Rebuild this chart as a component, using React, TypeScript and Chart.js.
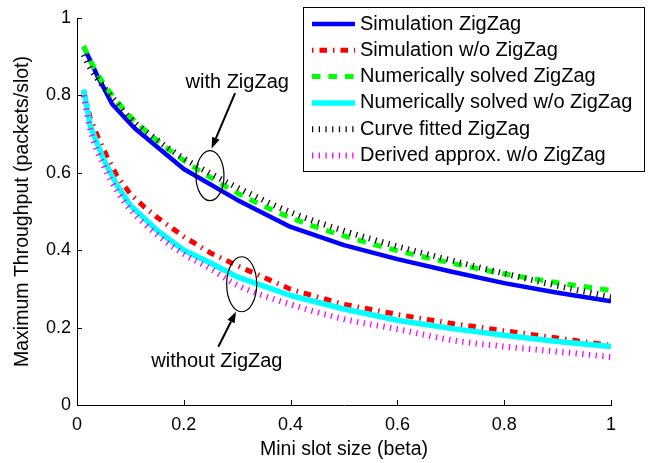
import React, { useEffect, useRef } from "react";
import { Chart, registerables } from "chart.js";

Chart.register(...registerables);

// ---------- data ----------
const BETA_SIM_ZZ = [0.0125, 0.025, 0.04, 0.05, 0.066, 0.108, 0.2, 0.3, 0.4, 0.5, 0.6, 0.7, 0.8, 0.9, 1.0];
const SIM_ZZ = [0.925, 0.89, 0.845, 0.82, 0.777, 0.715, 0.61, 0.53, 0.46, 0.413, 0.377, 0.345, 0.315, 0.29, 0.268];

const BETA_SIM_NOZZ = [0.0125, 0.025, 0.04, 0.055, 0.075, 0.1, 0.125, 0.15, 0.2, 0.25, 0.3, 0.4, 0.5, 0.6, 0.7, 0.8, 0.9, 1.0];
const SIM_NOZZ = [0.81, 0.74, 0.69, 0.645, 0.592, 0.545, 0.513, 0.485, 0.435, 0.393, 0.36, 0.299, 0.26, 0.234, 0.211, 0.192, 0.173, 0.154];

const BETA_NUM = [0.0125, 0.025, 0.05, 0.075, 0.1, 0.15, 0.2, 0.25, 0.3, 0.4, 0.5, 0.6, 0.7, 0.8, 0.9, 1.0];
const NUM_ZZ = [0.928, 0.89, 0.83, 0.785, 0.745, 0.684, 0.632, 0.588, 0.548, 0.484, 0.437, 0.399, 0.367, 0.339, 0.316, 0.296];
const NUM_NOZZ = [0.815, 0.72, 0.634, 0.567, 0.516, 0.451, 0.4, 0.367, 0.331, 0.283, 0.248, 0.219, 0.198, 0.18, 0.164, 0.151];
const FIT_ZZ = [0.905, 0.87, 0.822, 0.78, 0.74, 0.685, 0.637, 0.598, 0.562, 0.498, 0.45, 0.41, 0.374, 0.34, 0.308, 0.279];
const APPROX_NOZZ = [0.8, 0.71, 0.618, 0.553, 0.505, 0.44, 0.39, 0.352, 0.31, 0.26, 0.222, 0.196, 0.168, 0.151, 0.138, 0.124];

const SERIES_LABELS = [
  "Simulation ZigZag",
  "Simulation w/o ZigZag",
  "Numerically solved ZigZag",
  "Numerically solved w/o ZigZag",
  "Curve fitted ZigZag",
  "Derived approx. w/o ZigZag",
];

const X_TICKS = [0, 0.2, 0.4, 0.6, 0.8, 1];
const Y_TICKS = [0, 0.2, 0.4, 0.6, 0.8, 1];

const X_TITLE = "Mini slot size (beta)";
const Y_TITLE = "Maximum Throughput (packets/slot)";

// annotations (data-space anchors)
const NOTE_TEXTS = [
  { text: "with ZigZag", x: 0.3, y: 0.819 },
  { text: "without ZigZag", x: 0.262, y: 0.098 },
];
const NOTE_ELLIPSES = [
  { x: 0.249, y: 0.5925 },
  { x: 0.3084, y: 0.312 },
];
const NOTE_ARROWS = [
  { fromX: 0.296, fromY: 0.806, toX: 0.252, toY: 0.663 },
  { fromX: 0.2646, fromY: 0.1506, toX: 0.2978, toY: 0.241 },
];

const FONT = "'Liberation Sans', Arial, Helvetica, sans-serif";

function pts(xs: number[], ys: number[]) {
  return xs.map((x, i) => ({ x, y: ys[i] }));
}

const overlayPlugin = {
  id: "overlay",
  afterDraw(chart: any) {
    const { ctx, scales } = chart;
    const xs = scales.x;
    const ys = scales.y;
    const area = chart.chartArea;
    ctx.save();

    // inward tick marks
    ctx.strokeStyle = "#000";
    ctx.lineWidth = 1;
    ctx.setLineDash([]);
    X_TICKS.forEach((v) => {
      const px = Math.round(xs.getPixelForValue(v)) + 0.5;
      ctx.beginPath();
      ctx.moveTo(px, area.bottom);
      ctx.lineTo(px, area.bottom - 5);
      ctx.stroke();
    });
    Y_TICKS.forEach((v) => {
      const py = Math.round(ys.getPixelForValue(v)) + 0.5;
      ctx.beginPath();
      ctx.moveTo(area.left, py);
      ctx.lineTo(area.left + 5, py);
      ctx.stroke();
    });

    // ellipses
    ctx.lineWidth = 1.2;
    NOTE_ELLIPSES.forEach((e, i) => {
      ctx.beginPath();
      ctx.ellipse(xs.getPixelForValue(e.x), ys.getPixelForValue(e.y), i === 0 ? 14 : 15, i === 0 ? 25 : 27.5, 0, 0, Math.PI * 2);
      ctx.stroke();
    });

    // arrows
    NOTE_ARROWS.forEach((a) => {
      const x0 = xs.getPixelForValue(a.fromX);
      const y0 = ys.getPixelForValue(a.fromY);
      const x1 = xs.getPixelForValue(a.toX);
      const y1 = ys.getPixelForValue(a.toY);
      const ang = Math.atan2(y1 - y0, x1 - x0);
      const hl = 11;
      const hw = 4;
      const bx = x1 - hl * Math.cos(ang);
      const by = y1 - hl * Math.sin(ang);
      ctx.lineWidth = 2;
      ctx.beginPath();
      ctx.moveTo(x0, y0);
      ctx.lineTo(bx, by);
      ctx.stroke();
      ctx.beginPath();
      ctx.moveTo(x1, y1);
      ctx.lineTo(bx + hw * Math.sin(ang), by - hw * Math.cos(ang));
      ctx.lineTo(bx - hw * Math.sin(ang), by + hw * Math.cos(ang));
      ctx.closePath();
      ctx.fillStyle = "#000";
      ctx.fill();
    });

    // texts
    ctx.fillStyle = "#000";
    ctx.font = `20px ${FONT}`;
    ctx.textAlign = "center";
    ctx.textBaseline = "alphabetic";
    NOTE_TEXTS.forEach((t) => {
      ctx.fillText(t.text, xs.getPixelForValue(t.x), ys.getPixelForValue(t.y));
    });

    // legend
    const bx0 = 303.5, by0 = 7.5, bx1 = 644.5, by1 = 171.5;
    ctx.fillStyle = "#fff";
    ctx.fillRect(bx0, by0, bx1 - bx0, by1 - by0);
    ctx.strokeStyle = "#000";
    ctx.lineWidth = 1;
    ctx.setLineDash([]);
    ctx.strokeRect(bx0, by0, bx1 - bx0, by1 - by0);
    chart.data.datasets.forEach((ds: any, i: number) => {
      const yy = 24 + i * 26.3;
      ctx.save();
      ctx.strokeStyle = ds.borderColor;
      ctx.lineWidth = ds.borderWidth;
      ctx.lineCap = "butt";
      ctx.setLineDash(ds.borderDash || []);
      ctx.lineDashOffset = ds.legendDashOffset || 0;
      ctx.beginPath();
      ctx.moveTo(312, yy);
      ctx.lineTo(355, yy);
      ctx.stroke();
      ctx.restore();
      ctx.fillStyle = "#000";
      ctx.font = `20px ${FONT}`;
      ctx.textAlign = "left";
      ctx.textBaseline = "middle";
      ctx.fillText(ds.label, 360, yy);
    });

    ctx.restore();
  },
};

const fmt = (v: any) => String(Number(v));

export default function App() {
  const ref = useRef<HTMLCanvasElement | null>(null);

  useEffect(() => {
    document.body.style.margin = "0";
    const canvas = ref.current;
    if (!canvas) return;
    const chart = new Chart(canvas, {
      type: "line",
      data: {
        datasets: [
          {
            label: SERIES_LABELS[0],
            data: pts(BETA_SIM_ZZ, SIM_ZZ),
            borderColor: "#0000ff",
            borderWidth: 4.5,
            order: 6,
          },
          {
            label: SERIES_LABELS[1],
            data: pts(BETA_SIM_NOZZ, SIM_NOZZ),
            borderColor: "#ff0000",
            borderWidth: 5,
            borderDash: [7.5, 6, 1.5, 6],
            legendDashOffset: 13.5,
            order: 5,
          },
          {
            label: SERIES_LABELS[2],
            data: pts(BETA_NUM, NUM_ZZ),
            borderColor: "#00ff00",
            borderWidth: 5,
            borderDash: [8.5, 8],
            cubicInterpolationMode: "monotone",
            order: 4,
          },
          {
            label: SERIES_LABELS[3],
            data: pts(BETA_NUM, NUM_NOZZ),
            borderColor: "#00ffff",
            borderWidth: 5.5,
            order: 3,
          },
          {
            label: SERIES_LABELS[4],
            data: pts(BETA_NUM, FIT_ZZ),
            borderColor: "#111111",
            borderWidth: 6,
            borderDash: [1.3, 5.4],
            cubicInterpolationMode: "monotone",
            order: 2,
          },
          {
            label: SERIES_LABELS[5],
            data: pts(BETA_NUM, APPROX_NOZZ),
            borderColor: "#ff00ff",
            borderWidth: 6,
            borderDash: [1.3, 5.4],
            cubicInterpolationMode: "monotone",
            order: 1,
          },
        ] as any,
      },
      options: {
        animation: false,
        responsive: false,
        devicePixelRatio: 1,
        events: [],
        elements: {
          point: { radius: 0 },
          line: { tension: 0, borderCapStyle: "butt", borderJoinStyle: "round" },
        },
        layout: { padding: { left: 0, top: 18, right: 37, bottom: 0 } },
        plugins: {
          legend: { display: false },
          tooltip: { enabled: false },
        },
        scales: {
          x: {
            type: "linear",
            min: 0,
            max: 1,
            grid: { display: false, drawTicks: false },
            border: { display: true, color: "#000", width: 1 },
            afterBuildTicks: (s: any) => {
              s.ticks = X_TICKS.map((v) => ({ value: v }));
            },
            afterFit: (s: any) => {
              s.height = 58;
            },
            ticks: {
              padding: 9,
              color: "#000",
              maxRotation: 0,
              autoSkip: false,
              callback: fmt,
              font: { family: FONT, size: 18 },
            },
            title: {
              display: true,
              text: X_TITLE,
              color: "#000",
              font: { family: FONT, size: 19.5 },
              padding: { top: 0, bottom: 1.5 },
            },
          },
          y: {
            type: "linear",
            min: 0,
            max: 1,
            grid: { display: false, drawTicks: false },
            border: { display: true, color: "#000", width: 1 },
            afterBuildTicks: (s: any) => {
              s.ticks = Y_TICKS.map((v) => ({ value: v }));
            },
            afterFit: (s: any) => {
              s.width = 77;
            },
            ticks: {
              padding: 6,
              color: "#000",
              autoSkip: false,
              callback: fmt,
              font: { family: FONT, size: 18 },
            },
            title: {
              display: true,
              text: Y_TITLE,
              color: "#000",
              font: { family: FONT, size: 19.5 },
              padding: { top: 11, bottom: 0 },
            },
          },
        },
      } as any,
      plugins: [overlayPlugin],
    });
    return () => chart.destroy();
  }, []);

  return (
    <div style={{ position: "absolute", left: 0, top: 0, width: 648, height: 463, background: "#fff" }}>
      <canvas ref={ref} width={648} height={463} style={{ width: 648, height: 463, display: "block" }} />
    </div>
  );
}
